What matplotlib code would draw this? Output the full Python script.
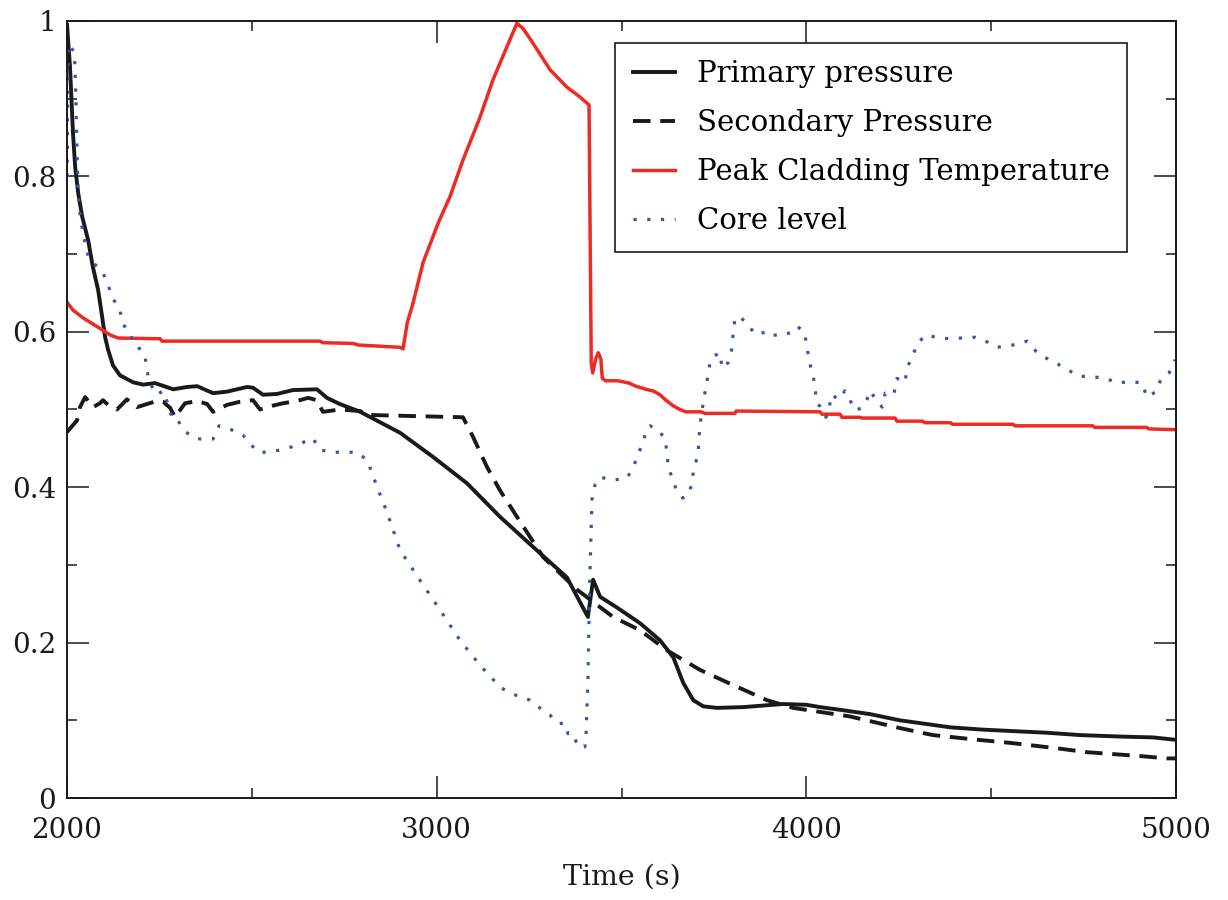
import matplotlib.pyplot as plt
from matplotlib.ticker import MultipleLocator, FuncFormatter

plt.rcParams['font.family'] = ['DejaVu Serif']

# primary pressure (normalised)
t_prim = [2000, 2008, 2016, 2022, 2030, 2041, 2057, 2070, 2084, 2095, 2103, 2111, 2124, 2143,
          2179, 2206, 2238, 2287, 2325, 2352, 2395, 2433, 2487, 2503, 2530, 2568, 2611, 2676,
          2703, 2738, 2793, 2901, 2990, 3082, 3171, 3261, 3352, 3380, 3409, 3423, 3442, 3488,
          3550, 3604, 3640, 3667, 3694, 3721, 3758, 3829, 3937, 4000, 4037, 4099, 4172, 4253,
          4389, 4478, 4651, 4740, 4857, 4938, 4997]
v_prim = [0.995, 0.941, 0.856, 0.812, 0.779, 0.748, 0.718, 0.683, 0.654, 0.619, 0.593, 0.577,
          0.557, 0.544, 0.535, 0.532, 0.534, 0.526, 0.529, 0.530, 0.521, 0.523, 0.529, 0.528,
          0.519, 0.520, 0.525, 0.526, 0.515, 0.507, 0.497, 0.470, 0.439, 0.405, 0.362, 0.323,
          0.284, 0.259, 0.233, 0.281, 0.259, 0.245, 0.225, 0.203, 0.181, 0.148, 0.126, 0.118,
          0.116, 0.117, 0.121, 0.120, 0.117, 0.113, 0.108, 0.100, 0.091, 0.088, 0.084, 0.081,
          0.079, 0.078, 0.075]

# secondary pressure
t_sec = [2000, 2027, 2035, 2049, 2070, 2089, 2097, 2111, 2135, 2162, 2189, 2216, 2243, 2260,
         2279, 2292, 2319, 2352, 2379, 2395, 2433, 2468, 2503, 2522, 2557, 2584, 2622, 2652,
         2676, 2692, 2738, 2793, 2812, 3071, 3098, 3136, 3171, 3217, 3288, 3380, 3477, 3550,
         3623, 3712, 3785, 3893, 3964, 4118, 4253, 4342, 4462, 4551, 4678, 4759, 4903, 4976, 5000]
v_sec = [0.471, 0.486, 0.503, 0.516, 0.503, 0.508, 0.512, 0.506, 0.500, 0.513, 0.503, 0.507,
         0.511, 0.510, 0.502, 0.490, 0.508, 0.511, 0.507, 0.497, 0.506, 0.510, 0.512, 0.500,
         0.505, 0.508, 0.511, 0.515, 0.512, 0.497, 0.500, 0.498, 0.493, 0.490, 0.465, 0.426,
         0.396, 0.362, 0.310, 0.268, 0.233, 0.216, 0.190, 0.165, 0.149, 0.126, 0.116, 0.105,
         0.090, 0.081, 0.075, 0.071, 0.064, 0.059, 0.054, 0.051, 0.051]

# peak cladding temperature
t_pct = [2000, 2016, 2043, 2070, 2097, 2116, 2138, 2252, 2257, 2684, 2692, 2774, 2787, 2901,
         2909, 2920, 2936, 2963, 3004, 3036, 3071, 3117, 3152, 3190, 3217, 3234, 3261, 3307,
         3352, 3388, 3412, 3418, 3422, 3430, 3437, 3444, 3448, 3457, 3490, 3520, 3539, 3566,
         3585, 3604, 3620, 3639, 3658, 3674, 3715, 3726, 3807, 3810, 4037, 4042, 4091, 4096,
         4145, 4150, 4240, 4245, 4315, 4320, 4390, 4395, 4559, 4564, 4775, 4780, 4921, 4926, 5000]
v_pct = [0.638, 0.628, 0.618, 0.610, 0.602, 0.596, 0.592, 0.591, 0.588, 0.588, 0.586, 0.585,
         0.583, 0.580, 0.578, 0.611, 0.637, 0.689, 0.740, 0.774, 0.821, 0.876, 0.924, 0.967,
         0.997, 0.990, 0.971, 0.937, 0.915, 0.902, 0.892, 0.560, 0.547, 0.565, 0.573, 0.565,
         0.540, 0.537, 0.537, 0.534, 0.530, 0.526, 0.524, 0.519, 0.512, 0.505, 0.500, 0.497,
         0.497, 0.495, 0.495, 0.498, 0.497, 0.494, 0.494, 0.490, 0.490, 0.489, 0.489, 0.485,
         0.485, 0.483, 0.483, 0.481, 0.481, 0.479, 0.479, 0.477, 0.477, 0.475, 0.474]

# core level
t_core = [2000, 2003, 2020, 2024, 2027, 2030, 2035, 2046, 2057, 2073, 2097, 2111, 2124, 2143,
          2151, 2170, 2184, 2197, 2211, 2216, 2224, 2243, 2260, 2273, 2284, 2298, 2314, 2338,
          2360, 2395, 2411, 2444, 2476, 2495, 2517, 2549, 2576, 2609, 2630, 2665, 2684, 2720,
          2784, 2812, 2825, 2839, 2852, 2866, 2901, 2955, 3009, 3063, 3117, 3171, 3198, 3252,
          3279, 3306, 3328, 3347, 3355, 3369, 3382, 3401, 3404, 3409, 3414, 3420, 3428, 3442,
          3477, 3515, 3531, 3544, 3558, 3569, 3577, 3598, 3617, 3623, 3626, 3637, 3650, 3666,
          3685, 3693, 3707, 3712, 3718, 3723, 3731, 3734, 3747, 3766, 3772, 3788, 3799, 3802,
          3807, 3821, 3834, 3845, 3866, 3896, 3910, 3934, 3956, 3975, 3994, 4002, 4007, 4018,
          4023, 4029, 4037, 4053, 4061, 4067, 4088, 4104, 4113, 4126, 4132, 4150, 4164, 4172,
          4191, 4205, 4213, 4224, 4237, 4245, 4267, 4272, 4288, 4302, 4324, 4359, 4391, 4421,
          4456, 4489, 4516, 4543, 4573, 4597, 4621, 4637, 4662, 4678, 4708, 4735, 4770, 4797,
          4816, 4840, 4878, 4908, 4921, 4946, 4959, 4981, 4997]
v_core = [0.80, 0.97, 0.96, 0.90, 0.83, 0.78, 0.75, 0.72, 0.698, 0.688, 0.676, 0.660, 0.643,
          0.628, 0.610, 0.598, 0.582, 0.578, 0.569, 0.551, 0.534, 0.519, 0.524, 0.507, 0.489,
          0.488, 0.474, 0.465, 0.462, 0.462, 0.479, 0.474, 0.467, 0.456, 0.445, 0.445, 0.448,
          0.452, 0.456, 0.463, 0.448, 0.445, 0.445, 0.435, 0.418, 0.400, 0.384, 0.367, 0.319,
          0.280, 0.242, 0.203, 0.171, 0.143, 0.135, 0.126, 0.116, 0.107, 0.096, 0.096, 0.083,
          0.083, 0.066, 0.066, 0.083, 0.152, 0.281, 0.384, 0.403, 0.413, 0.409, 0.412, 0.425,
          0.441, 0.458, 0.476, 0.479, 0.474, 0.463, 0.445, 0.426, 0.412, 0.394, 0.386, 0.394,
          0.416, 0.444, 0.480, 0.499, 0.516, 0.534, 0.551, 0.568, 0.573, 0.553, 0.560, 0.579,
          0.598, 0.618, 0.619, 0.613, 0.606, 0.596, 0.601, 0.596, 0.595, 0.599, 0.607, 0.600,
          0.581, 0.562, 0.546, 0.528, 0.508, 0.504, 0.490, 0.499, 0.519, 0.513, 0.524, 0.516,
          0.505, 0.499, 0.502, 0.513, 0.524, 0.511, 0.503, 0.521, 0.518, 0.521, 0.540, 0.535,
          0.553, 0.570, 0.586, 0.596, 0.592, 0.591, 0.592, 0.593, 0.587, 0.580, 0.582, 0.584,
          0.588, 0.575, 0.570, 0.562, 0.559, 0.551, 0.543, 0.542, 0.541, 0.539, 0.534, 0.536,
          0.534, 0.516, 0.523, 0.539, 0.547, 0.564]

fig = plt.figure(figsize=(12.28, 9), dpi=100)
ax = fig.add_axes([0.0546, 0.1133, 0.9031, 0.8634])

ax.plot(t_prim, v_prim, color='#1a1a1a', lw=2.8, label='Primary pressure')
ax.plot(t_sec, v_sec, color='#1a1a1a', lw=2.8, linestyle=(0, (4.5, 2.5)), label='Secondary Pressure')
ax.plot(t_pct, v_pct, color='#ee2a24', lw=2.5, label='Peak Cladding Temperature')
ax.plot(t_core, v_core, color='#3a55a8', lw=2.3, linestyle=(0, (1, 3.3)), label='Core level')

ax.set_xlim(2000, 5000)
ax.set_ylim(0, 1)
ax.xaxis.set_major_locator(MultipleLocator(1000))
ax.xaxis.set_minor_locator(MultipleLocator(500))
ax.yaxis.set_major_locator(MultipleLocator(0.2))
ax.yaxis.set_minor_locator(MultipleLocator(0.1))
ax.yaxis.set_major_formatter(FuncFormatter(lambda v, p: '%g' % round(v, 2)))
ax.tick_params(which='both', direction='in', top=True, right=True, width=1.1,
               labelsize=20, colors='#1a1a1a')
ax.tick_params(which='major', length=15.5)
ax.tick_params(which='minor', length=7.5)
ax.tick_params(axis='x', which='both', pad=14)
ax.tick_params(axis='y', which='both', pad=8)
for s in ax.spines.values():
    s.set_linewidth(1.4)
    s.set_color('#1a1a1a')

ax.set_xlabel('Time (s)', fontsize=20.5, color='#1a1a1a', labelpad=14)

leg = ax.legend(loc='upper right', bbox_to_anchor=(0.9558, 0.9717), fontsize=21,
                fancybox=False, framealpha=1, edgecolor='#1a1a1a', handlelength=1.45,
                borderpad=0.59, labelspacing=0.72, handletextpad=0.75, borderaxespad=0)
leg.get_frame().set_linewidth(1.2)

fig.savefig('out.png', dpi=100)
